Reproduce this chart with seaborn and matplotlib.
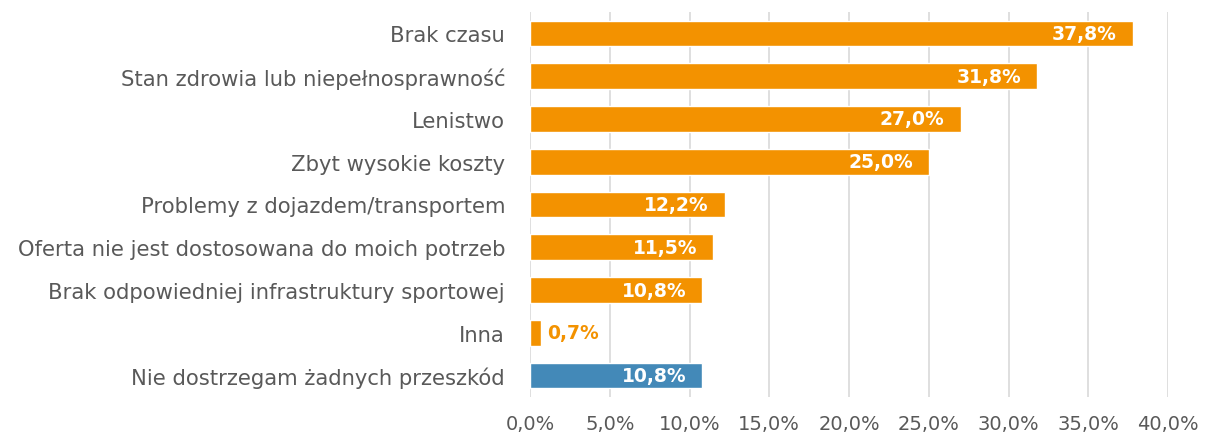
import matplotlib
matplotlib.use("Agg")
import matplotlib.pyplot as plt
from matplotlib.ticker import FuncFormatter, MultipleLocator
import pandas as pd
import seaborn as sns

# chart data
categories = [
    "Brak czasu",
    "Stan zdrowia lub niepełnosprawność",
    "Lenistwo",
    "Zbyt wysokie koszty",
    "Problemy z dojazdem/transportem",
    "Oferta nie jest dostosowana do moich potrzeb",
    "Brak odpowiedniej infrastruktury sportowej",
    "Inna",
    "Nie dostrzegam żadnych przeszkód",
]
values = [37.8, 31.8, 27.0, 25.0, 12.2, 11.5, 10.8, 0.7, 10.8]
groups = ["bariera"] * 8 + ["brak"]

ORANGE = "#F39200"
BLUE = "#4389B8"
TEXT = "#595959"

df = pd.DataFrame({"kategoria": categories, "wartosc": values, "grupa": groups})

sns.set_style("white")
plt.rcParams["font.family"] = ["DejaVu Sans"]

fig = plt.figure(figsize=(12.06, 4.39), dpi=100)
ax = fig.add_axes([0.4395, 0.0934, 0.529, 0.877])

sns.barplot(data=df, y="kategoria", x="wartosc", hue="grupa",
            palette={"bariera": ORANGE, "brak": BLUE}, dodge=False,
            width=0.6, legend=False, ax=ax, saturation=1)

ax.set_xlim(0, 40)
ax.xaxis.set_major_locator(MultipleLocator(5))
ax.xaxis.set_major_formatter(FuncFormatter(lambda v, p: f"{v:.1f}%".replace(".", ",")))
ax.grid(axis="x", color="#D9D9D9", linewidth=1.2)
ax.set_axisbelow(True)
for s in ax.spines.values():
    s.set_visible(False)
ax.set_xlabel("")
ax.set_ylabel("")
ax.tick_params(axis="both", length=0, labelcolor=TEXT)
ax.tick_params(axis="x", pad=12, labelsize=14)
ax.tick_params(axis="y", pad=18, labelsize=15.2)

# value labels
for i, v in enumerate(values):
    txt = f"{v:.1f}%".replace(".", ",")
    if v < 3:
        ax.text(v + 0.4, i, txt, va="center", ha="left", color=ORANGE,
                fontsize=13.5, fontweight="bold")
    else:
        ax.text(v - 1.0, i, txt, va="center", ha="right", color="white",
                fontsize=13.5, fontweight="bold")

fig.savefig("out.png", dpi=100)
